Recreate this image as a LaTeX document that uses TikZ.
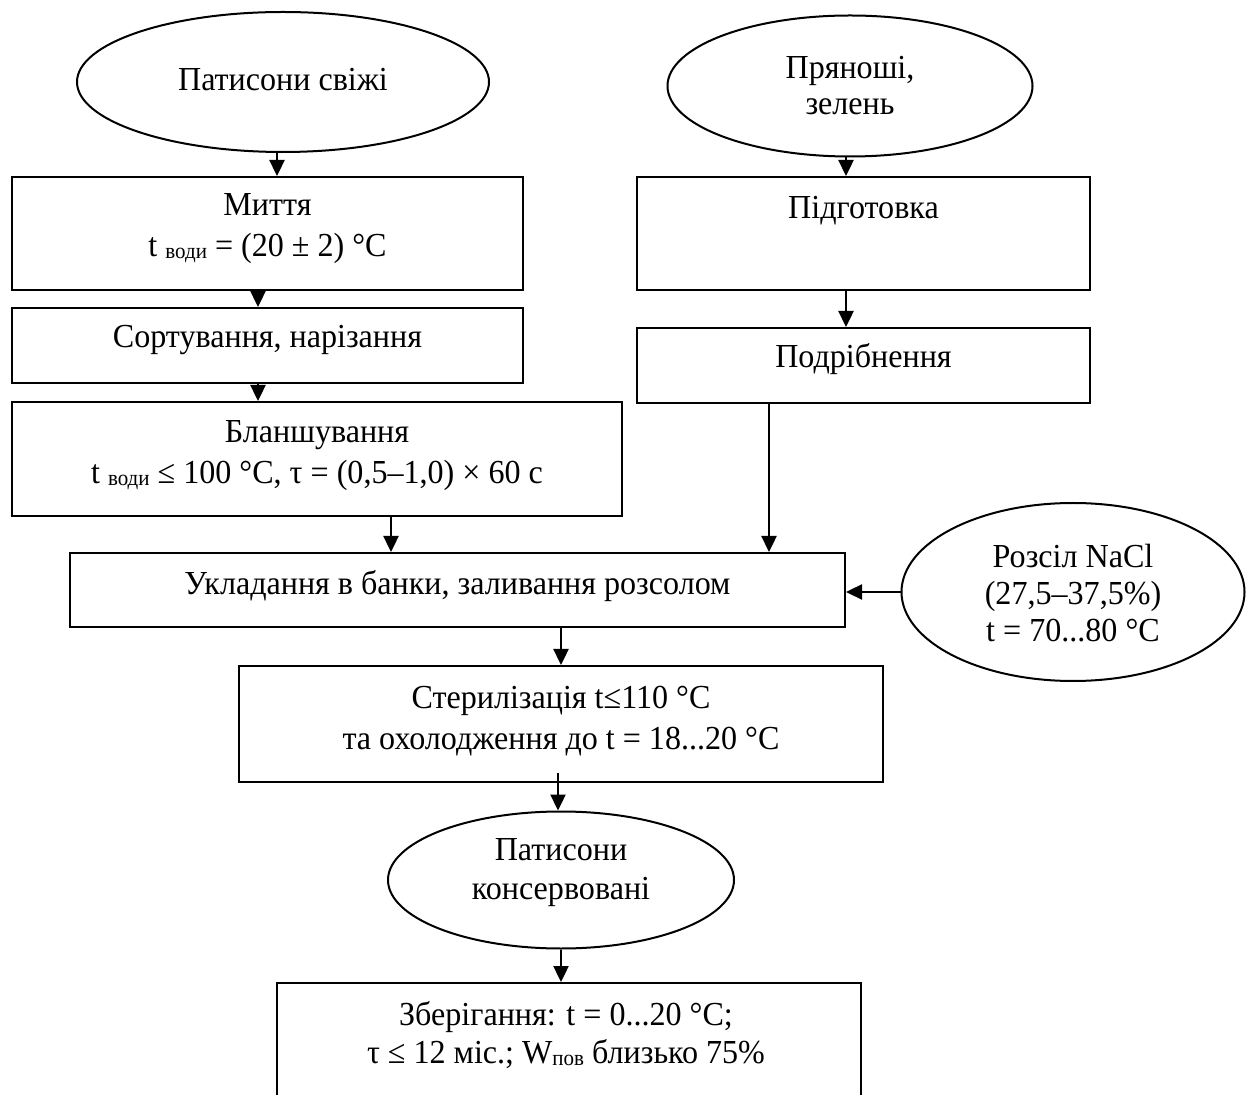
\documentclass[tikz,border=0pt]{standalone}
\usepackage{fontspec}
\setmainfont{Liberation Serif}[FakeStretch=0.955]
\usetikzlibrary{shapes.geometric,arrows.meta}
% small lowered index written after a symbol (t води, W пов)
\newcommand\lowsub[1]{\raisebox{-1pt}{\fontsize{11}{11}\selectfont #1}}
\begin{document}
\begin{tikzpicture}[x=0.5pt,y=-0.5pt,
  box/.style={draw, line width=1pt, rectangle, inner sep=0pt},
  oval/.style={draw, line width=1pt, ellipse, inner sep=0pt},
  lbl/.style={font=\fontsize{16.8}{20.5}\selectfont, align=center, inner sep=0pt},
  arr/.style={line width=1.2pt, -{Triangle[length=8pt,width=7.5pt]}}]
\useasboundingbox (0,0) rectangle (1252,1095);

% --- left branch: squash ---
\node[oval, minimum width=206pt, minimum height=70pt] (e1) at (283,82) {};
\node[lbl] (e1t) at (283,80) {Патисони свіжі};

\node[box, minimum width=255.5pt, minimum height=56.5pt] (b1) at (267.5,233.5) {};
\node[lbl] (b1t) at (267.5,229) {Миття\\t \lowsub{води} = (20 ± 2) °C};

\node[box, minimum width=255.5pt, minimum height=37.5pt] (b2) at (267.5,345.5) {};
\node[lbl] (b2t) at (267.5,340) {Сортування, нарізання};

\node[box, minimum width=305pt, minimum height=57pt] (b3) at (317,459) {};
\node[lbl] (b3t) at (317,456) {Бланшування\\t \lowsub{води} ≤ 100 °C, τ = (0,5–1,0) × 60 c};

% --- right branch: spices ---
\node[oval, minimum width=182.5pt, minimum height=70.5pt] (e2) at (850,86) {};
\node[lbl, font=\fontsize{16.8}{18}\selectfont] (e2t) at (850,86) {Пряноші,\\зелень};

\node[box, minimum width=226.5pt, minimum height=56.5pt] (b4) at (863.5,233.5) {};
\node[lbl] (b4t) at (863.5,211) {Підготовка};

\node[box, minimum width=226.5pt, minimum height=37.5pt] (b5) at (863.5,365.5) {};
\node[lbl] (b5t) at (863.5,359) {Подрібнення};

% --- joint line ---
\node[box, minimum width=387.5pt, minimum height=37pt] (b6) at (457.5,590) {};
\node[lbl] (b6t) at (457.5,586) {Укладання в банки, заливання розсолом};

\node[oval, minimum width=171.5pt, minimum height=89pt] (e3) at (1073,592) {};
\node[lbl, font=\fontsize{16.8}{18.5}\selectfont] (e3t) at (1073,593) {Розсіл NaCl\\(27,5–37,5\%)\\t = 70...80 °C};

\node[box, minimum width=322pt, minimum height=58pt] (b7) at (561,724) {};
\node[lbl] (b7t) at (561,721) {Стерилізація t≤110 °C\\та охолодження до t = 18...20 °C};

\node[oval, minimum width=173pt, minimum height=68.5pt] (e4) at (561,880) {};
\node[lbl, font=\fontsize{16.8}{19.5}\selectfont] (e4t) at (561,873) {Патисони\\консервовані};

\node[box, minimum width=292pt, minimum height=78.5pt] (b8) at (569,1061.5) {};
\node[lbl, font=\fontsize{16.8}{19}\selectfont] (b8t) at (566,1035) {Зберігання: t = 0...20 °C;\\τ ≤ 12 міс.; W\lowsub{пов} близько 75\%};

% --- connectors ---
\draw[arr] (277,0 |- e1.south) -- (277,0 |- b1.north);
\draw[arr] (258,0 |- b1.south) -- (258,0 |- b2.north);
\draw[arr] (258,0 |- b2.south) -- (258,0 |- b3.north);
\draw[arr] (391,0 |- b3.south) -- (391,0 |- b6.north);
\draw[arr] (846,0 |- e2.south) -- (846,0 |- b4.north);
\draw[arr] (846,0 |- b4.south) -- (846,0 |- b5.north);
\draw[arr] (769,0 |- b5.south) -- (769,0 |- b6.north);
\draw[arr] (e3.west) -- (b6.east |- e3.west);
\draw[arr] (561,0 |- b6.south) -- (561,0 |- b7.north);
\draw[arr] (558,773) -- (558,0 |- e4.north);
\draw[arr] (561,0 |- e4.south) -- (561,0 |- b8.north);
\end{tikzpicture}
\end{document}
